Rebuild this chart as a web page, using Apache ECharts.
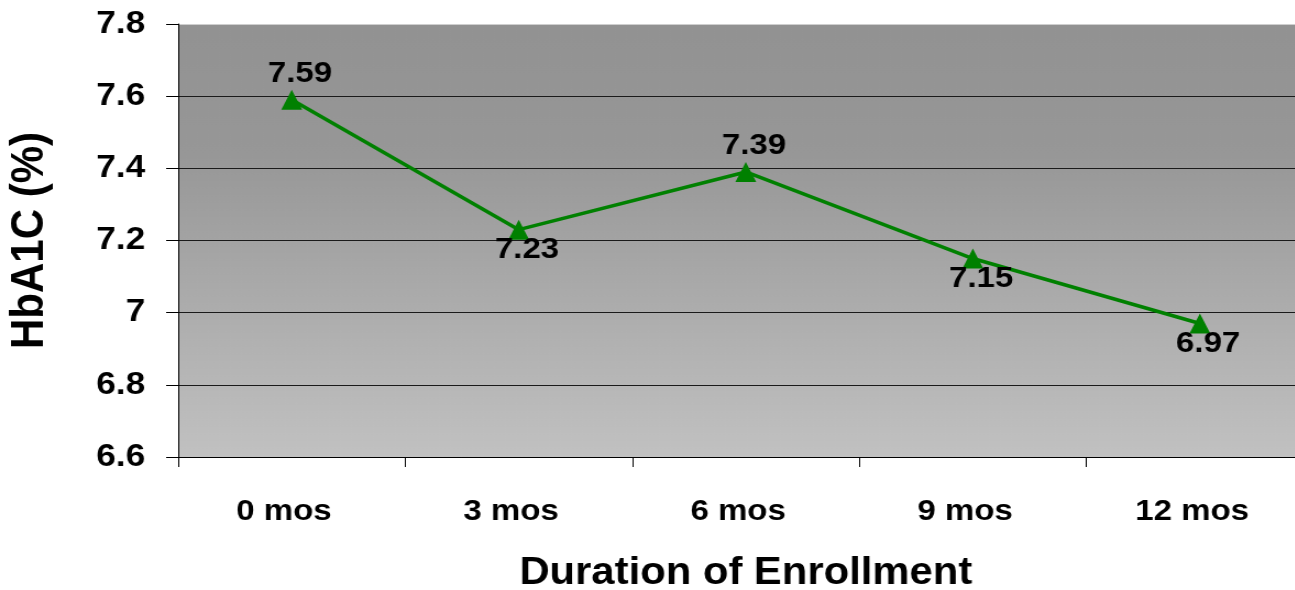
<!DOCTYPE html>
<html>
<head>
<meta charset="utf-8">
<script src="https://cdn.jsdelivr.net/npm/echarts@6/dist/echarts.min.js"></script>
<style>
html,body{margin:0;padding:0;background:#fff;overflow:hidden;width:1295px;height:590px}
#c{width:1194px;height:590px;transform:scale(1.1,1);transform-origin:0 0}
</style>
</head>
<body>
<div id="c"></div>
<script>
const categories = ['0 mos', '3 mos', '6 mos', '9 mos', '12 mos'];
const hba1c = [7.59, 7.23, 7.39, 7.15, 6.97];
const labelPos = ['top', 'bottom', 'top', 'bottom', 'bottom'];
const yTicks = [6.6, 6.8, 7, 7.2, 7.4, 7.6, 7.8];

const FONT = '"Liberation Sans", Arial, sans-serif';
const chart = echarts.init(document.getElementById('c'), null, {renderer: 'canvas'});
chart.setOption({
  animation: false,
  grid: {
    left: 162, right: 0, top: 24, bottom: 133,
    outerBoundsMode: 'none',
    containLabel: false,
    show: true,
    borderWidth: 0,
    backgroundColor: {
      type: 'linear', x: 0, y: 0, x2: 0, y2: 1,
      colorStops: [
        {offset: 0, color: '#929292'},
        {offset: 0.3, color: '#979797'},
        {offset: 1, color: '#c1c1c1'}
      ]
    }
  },
  xAxis: {
    type: 'category',
    data: categories,
    boundaryGap: true,
    name: 'Duration of Enrollment',
    nameLocation: 'middle',
    nameGap: 98,
    nameTextStyle: {fontFamily: FONT, fontWeight: 'bold', fontSize: 38, color: '#000'},
    axisLine: {show: true, lineStyle: {color: '#000', width: 1}},
    axisTick: {show: true, length: 10, lineStyle: {color: '#000'}},
    axisLabel: {fontFamily: FONT, fontWeight: 'bold', fontSize: 30, color: '#000', margin: 40, padding: [0, 14, 0, 0]},
    splitLine: {show: false}
  },
  yAxis: {
    type: 'value',
    min: 6.6, max: 7.8, interval: 0.2,
    name: 'HbA1C (%)',
    nameLocation: 'middle',
    nameGap: 114,
    nameRotate: 90,
    nameTextStyle: {fontFamily: FONT, fontWeight: 'bold', fontSize: 42, color: '#000'},
    axisLine: {show: true, lineStyle: {color: '#000', width: 1}},
    axisTick: {show: true, length: 11, inside: false, lineStyle: {color: '#000'}},
    axisLabel: {
      fontFamily: FONT, fontWeight: 'bold', fontSize: 32, color: '#000', margin: 30,
      formatter: function (v) {
        const r = Math.round(v * 10) / 10;
        return yTicks.indexOf(r) >= 0 ? String(r) : '';
      }
    },
    splitLine: {show: true, lineStyle: {color: ['#1a1a1a', '#1a1a1a', '#1a1a1a', '#1a1a1a', '#1a1a1a', '#1a1a1a', '#cfcfcf'], width: 1}}
  },
  series: [{
    type: 'line',
    data: hba1c.map((v, i) => ({
      value: v,
      label: {position: labelPos[i], distance: labelPos[i] === 'top' ? 1 : -5}
    })),
    symbol: 'triangle',
    symbolSize: [19, 20],
    itemStyle: {color: '#008000'},
    lineStyle: {color: '#008000', width: 3.5},
    label: {
      show: true,
      fontFamily: FONT, fontWeight: 'bold', fontSize: 30, color: '#000',
      offset: [7.5, 0],
      formatter: p => p.value.toFixed(2)
    }
  }]
});
</script>
</body>
</html>
